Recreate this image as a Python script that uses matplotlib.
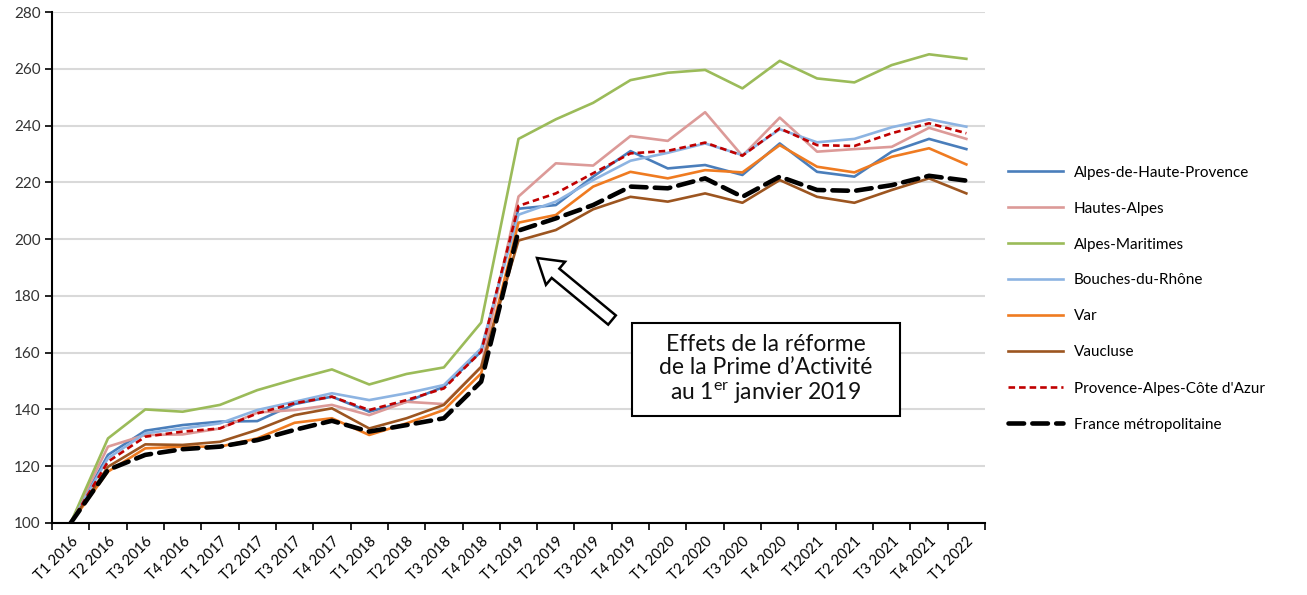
import matplotlib
matplotlib.use("Agg")
import matplotlib.pyplot as plt
from matplotlib.patches import Rectangle, FancyArrow
import numpy as np

quarters = ["T1 2016", "T2 2016", "T3 2016", "T4 2016", "T1 2017", "T2 2017", "T3 2017",
            "T4 2017", "T1 2018", "T2 2018", "T3 2018", "T4 2018", "T1 2019", "T2 2019",
            "T3 2019", "T4 2019", "T1 2020", "T2 2020", "T3 2020", "T4 2020", "T12021",
            "T2 2021", "T3 2021", "T4 2021", "T1 2022"]

alpes_haute_provence = [100, 124.0, 132.5, 134.5, 135.7, 135.9, 141.9, 144.5, 139.2, 142.7, 148.0, 160.4,
                        210.7, 212.0, 222.0, 231.0, 224.9, 226.1, 222.6, 233.7, 223.7, 222.0, 230.8, 235.3, 231.7]
hautes_alpes = [100, 126.9, 131.0, 131.2, 133.3, 138.9, 139.8, 141.6, 138.0, 142.7, 141.9, 155.0,
                215.0, 226.7, 225.9, 236.3, 234.6, 244.7, 229.3, 242.8, 230.8, 231.7, 232.5, 239.2, 235.3]
alpes_maritimes = [100, 129.8, 140.0, 139.2, 141.6, 146.8, 150.6, 154.1, 148.8, 152.5, 154.8, 170.6,
                   235.3, 242.2, 248.0, 256.0, 258.6, 259.6, 253.1, 262.8, 256.6, 255.2, 261.3, 265.1, 263.5]
bouches_du_rhone = [100, 122.8, 131.6, 133.3, 135.1, 139.8, 142.7, 145.7, 143.3, 145.7, 148.6, 161.5,
                    208.6, 213.2, 220.8, 227.6, 230.4, 233.7, 229.6, 238.7, 234.1, 235.3, 239.4, 242.2, 239.6]
var = [100, 118.1, 126.3, 126.9, 126.9, 129.8, 135.3, 136.9, 131.0, 135.1, 139.8, 152.7,
       205.8, 208.5, 218.5, 223.7, 221.4, 224.3, 223.5, 233.1, 225.5, 223.5, 229.0, 232.0, 226.3]
vaucluse = [100, 119.8, 127.7, 127.5, 128.6, 132.8, 138.0, 140.4, 133.3, 136.9, 141.6, 155.0,
            199.5, 203.2, 210.5, 214.9, 213.2, 216.1, 212.8, 220.8, 214.9, 212.8, 217.3, 221.4, 216.1]
paca = [100, 121.6, 130.4, 132.2, 133.3, 138.6, 142.2, 144.5, 139.8, 143.3, 147.4, 160.4,
        211.7, 216.1, 223.2, 230.2, 231.1, 234.0, 229.4, 239.0, 233.1, 232.8, 237.3, 240.8, 237.3]
france = [100, 118.7, 124.0, 126.0, 126.9, 129.2, 132.8, 136.0, 132.2, 134.5, 136.9, 149.8,
          203.0, 207.3, 212.0, 218.5, 217.9, 221.4, 214.9, 222.0, 217.3, 217.0, 219.0, 222.3, 220.6]

series_names = ["Alpes-de-Haute-Provence", "Hautes-Alpes", "Alpes-Maritimes", "Bouches-du-Rhône",
                "Var", "Vaucluse", "Provence-Alpes-Côte d'Azur", "France métropolitaine"]
series_values = [alpes_haute_provence, hautes_alpes, alpes_maritimes, bouches_du_rhone,
                 var, vaucluse, paca, france]
colors = ["#4a7ebb", "#dc9a98", "#9bbb59", "#8db4e2", "#ef7b21", "#9c5520", "#c00000", "#000000"]

plt.rcParams['font.family'] = ['Lato', 'DejaVu Sans']

fig = plt.figure(figsize=(13.07, 5.95), dpi=100)
ax = fig.add_axes([52/1307, 72/595, 933/1307, 511/595])

x = np.arange(len(quarters))
for i, (name, vals, c) in enumerate(zip(series_names, series_values, colors)):
    if name == "France métropolitaine":
        ax.plot(x, vals, color=c, lw=3.3, ls=(0, (3.4, 1.8)), label=name, zorder=10,
                solid_capstyle='round', dash_capstyle='round')
    elif name == "Provence-Alpes-Côte d'Azur":
        ax.plot(x, vals, color=c, lw=1.9, ls=(0, (2.5, 1.5)), label=name, zorder=9)
    else:
        ax.plot(x, vals, color=c, lw=1.9, label=name, zorder=3 + i * 0.1)

ax.set_xlim(-0.5, len(quarters) - 0.5)
ax.set_ylim(100, 280)
ax.set_yticks(np.arange(100, 281, 20))
ax.set_xticks(x)
ax.set_xticklabels(quarters, rotation=45, ha='right', rotation_mode='anchor', fontsize=10.5)
ax.set_xticks(np.arange(-0.5, len(quarters), 1), minor=True)
ax.tick_params(axis='x', which='major', length=0, pad=8)
ax.tick_params(axis='x', which='minor', length=5, width=1.2, direction='out', color='black')
ax.tick_params(axis='y', length=5, width=1.2, direction='out', labelsize=11, pad=3, colors='black')
for lab in ax.get_yticklabels():
    lab.set_color('#333333')
ax.grid(axis='y', color='#d9d9d9', lw=1.5, zorder=0)
ax.set_axisbelow(True)
for s in ['top', 'right']:
    ax.spines[s].set_visible(False)
ax.spines['left'].set_linewidth(1.5)
ax.spines['bottom'].set_linewidth(1.5)

leg = fig.legend(loc='center left', bbox_to_anchor=(1008/1307, 1 - 298.5/595), frameon=False,
                 fontsize=11, handlelength=3.6, handletextpad=0.7, labelspacing=1.44,
                 borderpad=0, borderaxespad=0)

# annotation box
fig.patches.append(Rectangle((632/1307, (595-416)/595), 268/1307, 93/595, transform=fig.transFigure,
                             fill=True, fc='white', ec='black', lw=1.5, zorder=20))
fig.text(766/1307, 1 - 370/595,
         "Effets de la réforme\nde la Prime d’Activité\nau 1$^{\\mathregular{er}}$ janvier 2019",
         ha='center', va='center', fontsize=16.5, linespacing=1.1, zorder=21, color='#111111')

# hollow arrow (in inches)
fig.patches.append(FancyArrow(6.12, (595-320)/100, -0.75, 0.62, width=0.12, head_width=0.30,
                              head_length=0.24, length_includes_head=True,
                              transform=fig.dpi_scale_trans, fc='white', ec='black', lw=1.8, zorder=20))

fig.savefig("out.png", dpi=100)
